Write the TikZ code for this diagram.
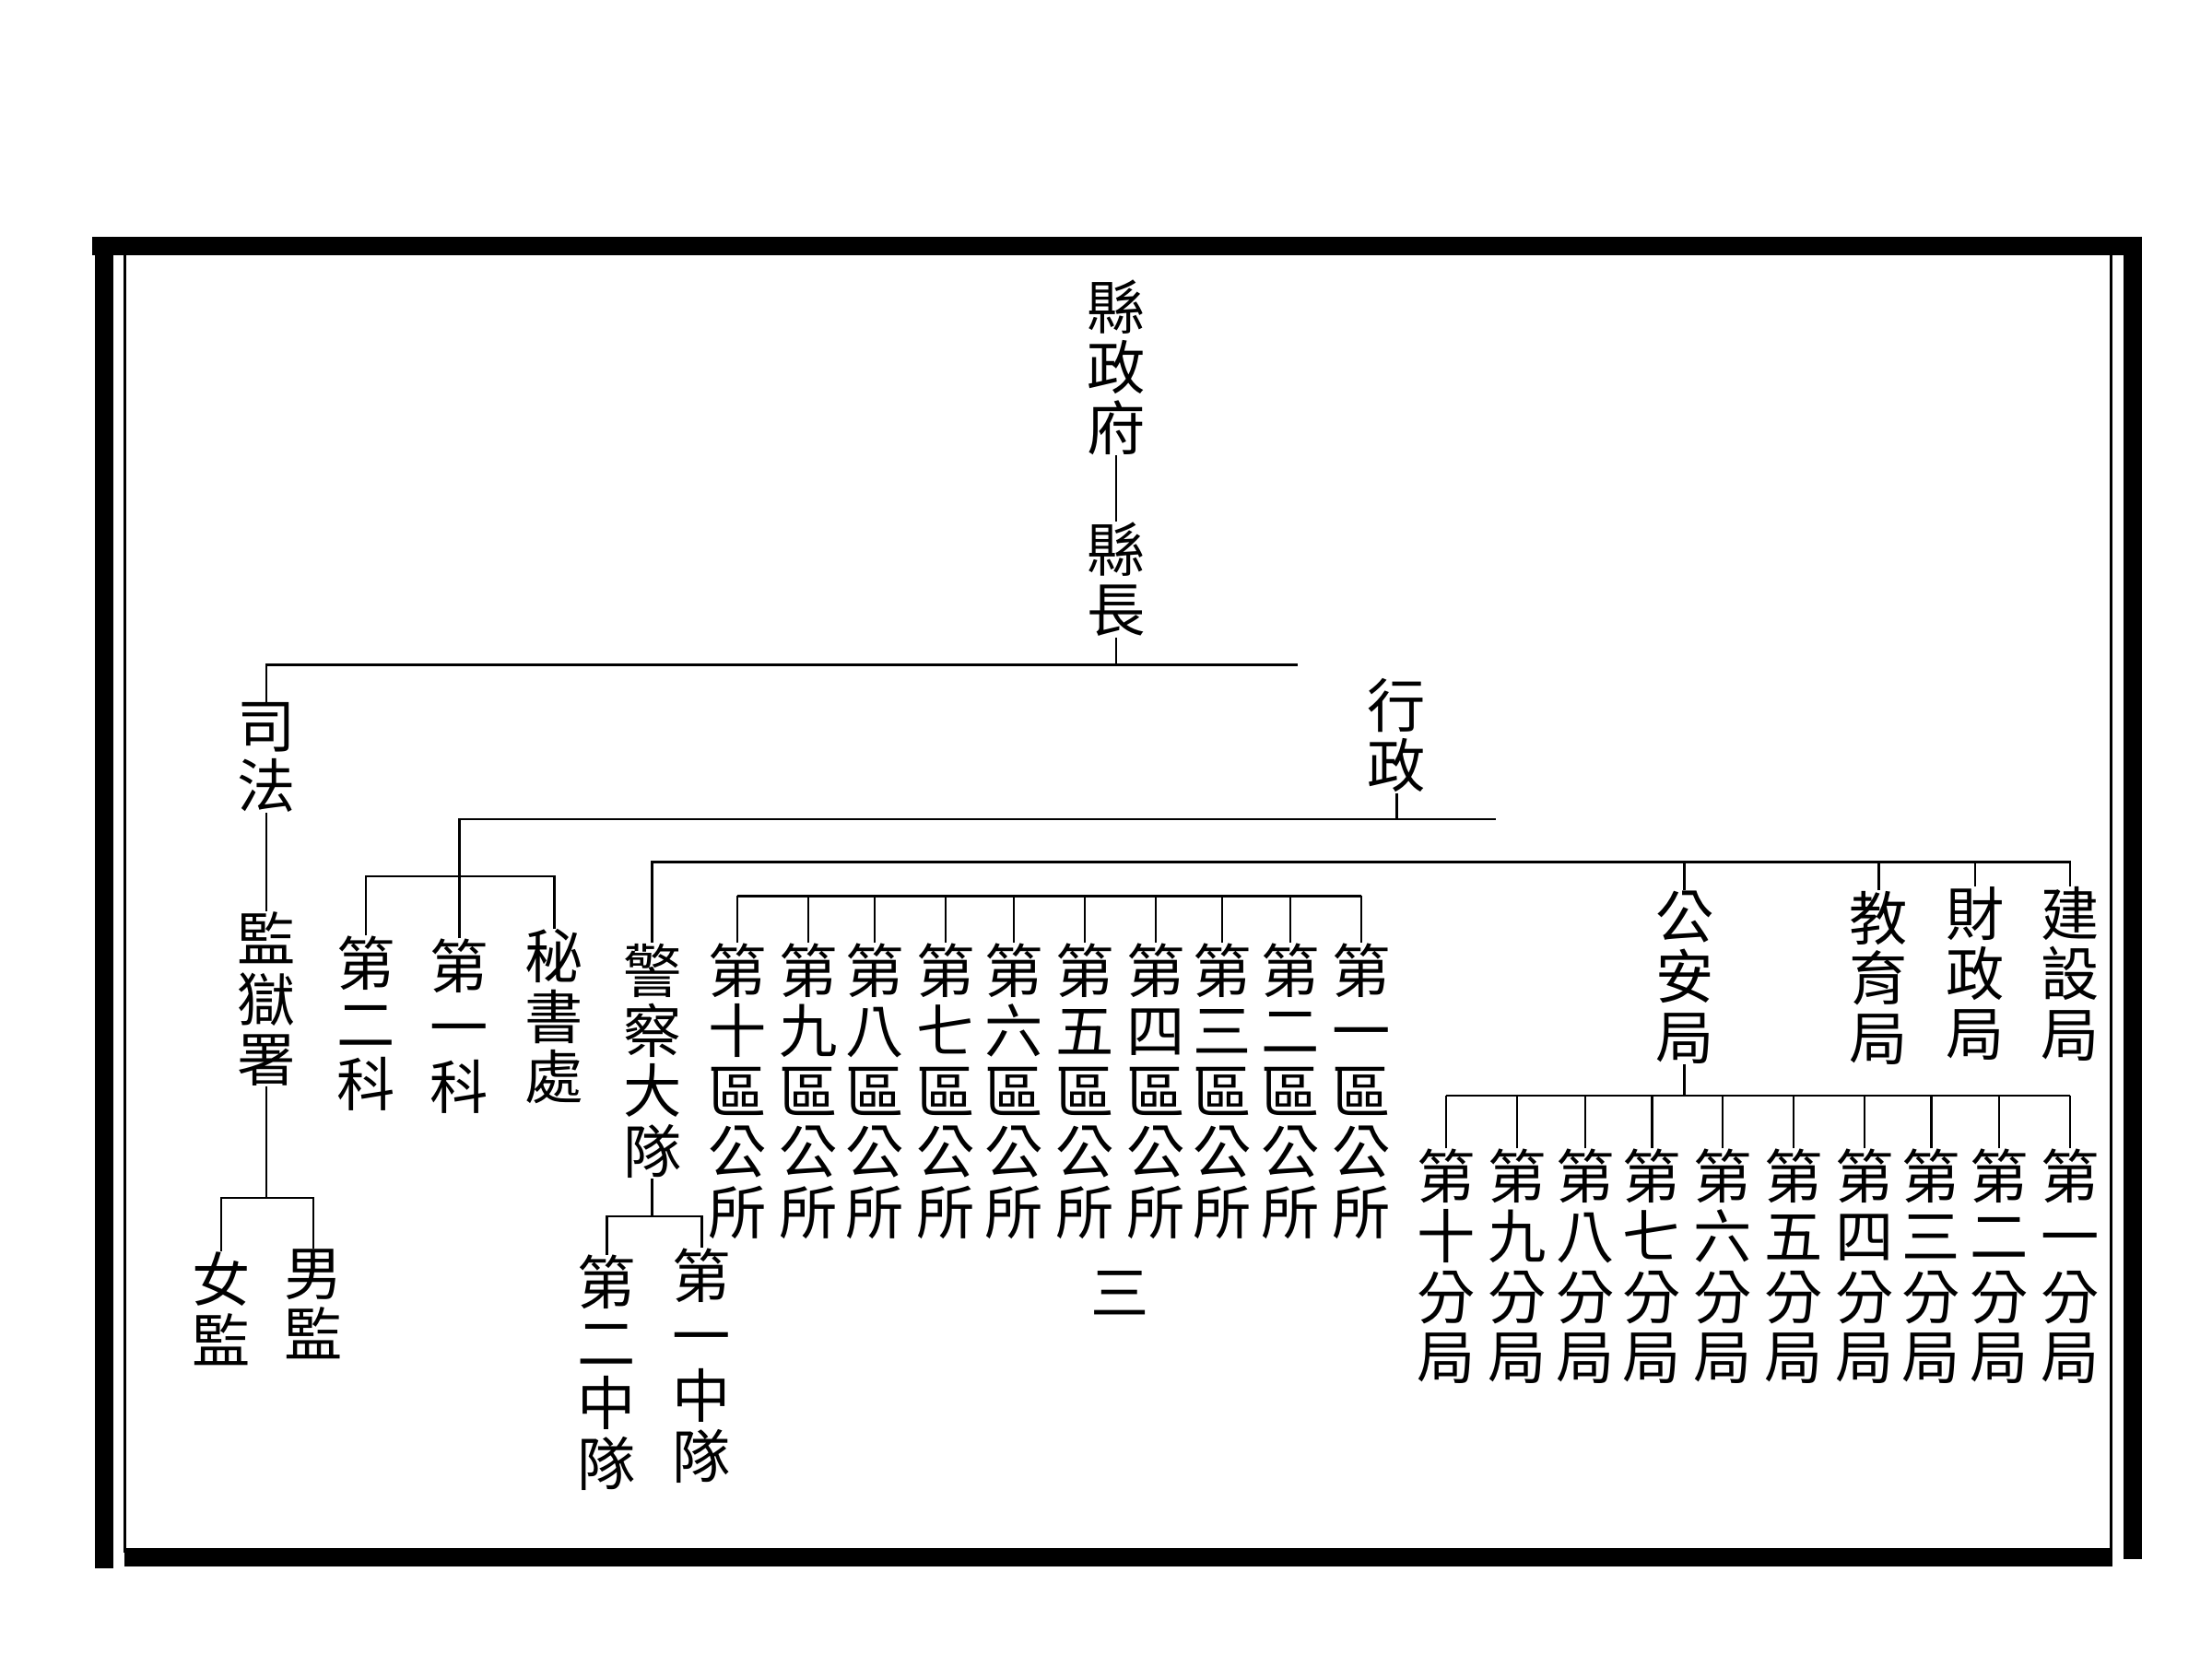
\documentclass[tikz,border=0pt]{standalone}
\usepackage{fontspec}
\newfontfamily\cjkfont{Noto Sans CJK TC}
\usetikzlibrary{positioning}

\begin{document}
\begin{tikzpicture}[
    x=0.015385cm, y=-0.015385cm,
    every node/.style={font=\cjkfont\fontsize{18}{18.6}\selectfont},
    col/.style={align=center, inner sep=0pt, anchor=north},
    link/.style={line width=0.7pt},
    rule/.style={line width=5.5pt},
    thinrule/.style={line width=0.8pt}
]
\useasboundingbox (0,0) rectangle (1560,1175.2);

% Frame
\draw[rule] (65,173.5) -- (1510,173.5);
\draw[rule] (73.5,167) -- (73.5,1106);
\draw[rule] (1504,167) -- (1504,1100);
\draw[rule] (88,1098.5) -- (1490,1098.5);
\draw[thinrule] (88,180) -- (88,1095);
\draw[thinrule] (1489,180) -- (1489,1095);

% Levels of the horizontal rules
\coordinate (y1) at (0,469);
\coordinate (y2) at (0,578);
\coordinate (y3) at (0,608);
\coordinate (y4) at (0,632);
\coordinate (y5) at (0,773);
\coordinate (y6) at (0,845);
\coordinate (y7) at (0,858);
\coordinate (y8) at (0,618);

% Head
\node[col] (fu) at (787,197) {縣\\政\\府};
\node[col] (zhang) at (787,368) {縣\\長};
\draw[link] (fu) -- (zhang);
\coordinate (y1end) at (915,469);
\draw[link] (zhang.south) -- (zhang.south |- y1);

% Judiciary
\node[col] (sifa) at (188,495) {司\\法};
\draw[link] (sifa.north) |- (y1end);
\node[col] (jianyu) at (188,643) {監\\獄\\署};
\draw[link] (sifa) -- (jianyu);
\node[col] (nvjian) at (156,883) {女\\監};
\node[col] (nanjian) at (221,881) {男\\監};
\draw[link] (jianyu.south) -- (jianyu.south |- y6);
\draw[link] (nvjian.north) -- (nvjian.north |- y6) -- (nanjian.north |- y6) -- (nanjian.north);

% Administration
\node[col] (xingzheng) at (985,478) {行\\政};
\coordinate (y2end) at (1055,578);
\draw[link] (xingzheng.south) -- (xingzheng.south |- y2);
\node[col] (ke2) at (258,660) {第\\二\\科};
\node[col] (ke1) at (324,662) {第\\一\\科};
\node[col] (mishu) at (391,655) {秘\\書\\處};
\draw[link] (ke1.north) |- (y2end);
\draw[link] (ke2.north) -- (ke2.north |- y8) -- (mishu.north |- y8) -- (mishu.north);

% Bureaus
\node[col] (police) at (460,665) {警\\察\\大\\隊};
\node[col] (gongan) at (1188,628) {公\\安\\局};
\node[col] (jiaoyu) at (1325,628) {教\\育\\局};
\node[col] (caizheng) at (1393,625) {財\\政\\局};
\node[col] (jianshe) at (1460,625) {建\\設\\局};
\draw[link] (police.north) -- (police.north |- y3) -- (jianshe.north |- y3) -- (jianshe.north);
\foreach \n in {gongan, jiaoyu, caizheng}
    \draw[link] (\n.north) -- (\n.north |- y3);

% District offices
\foreach \i/\x/\num in {1/960/一, 2/910/二, 3/862/三, 4/815/四, 5/765/五,
                        6/715/六, 7/667/七, 8/617/八, 9/570/九, 10/520/十}
    \node[col] (qu\i) at (\x,665) {第\\\num\\區\\公\\所};
\draw[link] (qu10.north |- y4) -- (qu1.north |- y4);
\foreach \i in {1,...,10}
    \draw[link] (qu\i.north) -- (qu\i.north |- y4);

% Police squadrons
\node[col] (zd2) at (428,885) {第\\二\\中\\隊};
\node[col] (zd1) at (495,880) {第\\一\\中\\隊};
\draw[link] (police.south) -- (police.south |- y7);
\draw[link] (zd2.north) -- (zd2.north |- y7) -- (zd1.north |- y7) -- (zd1.north);

% Police sub-bureaus
\foreach \i/\x/\num in {1/1460/一, 2/1410/二, 3/1362/三, 4/1315/四, 5/1265/五,
                        6/1215/六, 7/1165/七, 8/1118/八, 9/1070/九, 10/1020/十}
    \node[col] (fj\i) at (\x,810) {第\\\num\\分\\局};
\draw[link] (gongan.south) -- (gongan.south |- y5);
\draw[link] (fj10.north |- y5) -- (fj1.north |- y5);
\foreach \i in {1,...,10}
    \draw[link] (fj\i.north) -- (fj\i.north |- y5);

% Page number
\node (page) at (790,912) {三};

\end{tikzpicture}
\end{document}
